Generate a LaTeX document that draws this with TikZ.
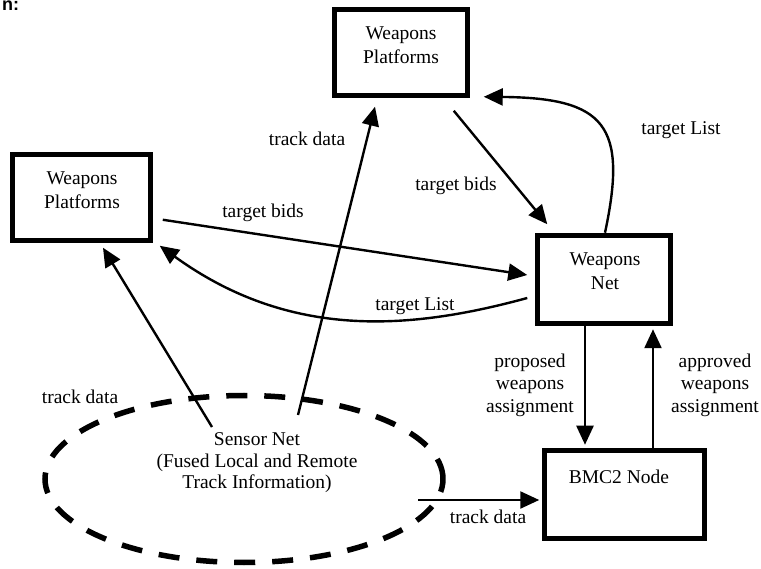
\documentclass[tikz,border=0pt]{standalone}
\usepackage{fontspec}
\setmainfont{Liberation Serif}
\setsansfont{Liberation Sans}
\usetikzlibrary{arrows.meta,calc,shapes.geometric}

\begin{document}
\begin{tikzpicture}[x=1pt,y=-1pt,
  box/.style={draw, line width=5.5pt, rectangle, inner sep=0pt},
  txt/.style={font=\fontsize{19.5}{24}\selectfont, align=center, inner sep=0pt},
  lbl/.style={font=\fontsize{19.5}{22.5}\selectfont, align=center, inner sep=0pt},
  arr/.style={line width=2.4pt, -{Triangle[length=19pt,width=17pt]}},
  sensorshape/.style={draw, ellipse, line width=5.5pt, dash pattern=on 21pt off 17pt, inner sep=0pt}
]
\useasboundingbox (0,0) rectangle (761,569);

% header fragment
\node[font=\sffamily\bfseries\fontsize{18}{20}\selectfont, anchor=base west, inner sep=0pt] (hdr) at (2,11) {n:};

% boxes
\node[box, minimum width=133pt, minimum height=86pt] (ptop) at (401,52.5) {};
\node[txt] (ptopt) at (401,45) {Weapons\\Platforms};

\node[box, minimum width=138pt, minimum height=86pt] (pleft) at (81.5,197.5) {};
\node[txt] (pleftt) at (82,190) {Weapons\\Platforms};

\node[box, minimum width=133pt, minimum height=88pt] (wnet) at (604,279.5) {};
\node[txt] (wnett) at (605,271) {Weapons\\Net};

\node[box, minimum width=160pt, minimum height=88pt] (bmc) at (624.5,494.5) {};
\node[txt] (bmct) at (619,477) {BMC2 Node};

% sensor net
\node[sensorshape, minimum width=398pt, minimum height=167pt] (sensor) at (244,479) {};
\node[txt, font=\fontsize{19.5}{21.5}\selectfont] (sensort) at (257,463) {Sensor Net\\(Fused Local and Remote\\Track Information)};

% connectors
\draw[arr] ($(sensor.center)+(-32,-52)$) -- ($(pleft.south)+(21.5,4.5)$);
\draw[arr] ($(sensor.center)+(54,-64)$) -- ($(ptop.south)+(-26,8.5)$);
\draw[arr] ($(ptop.south east)+(-16.5,12.5)$) -- ($(wnet.north west)+(12.5,-8.5)$);
\draw[arr] ($(wnet.north)+(1,0)$) .. controls (628,125) and (605,98) .. ($(ptop.south east)+(13.5,-1.5)$);
\draw[arr] ($(pleft.south east)+(9.5,-23.5)$) -- ($(wnet.west)+(-7.5,-4.5)$);
\draw[arr] ($(wnet.west)+(-7.5,18.5)$) .. controls (410,330) and (290,340) .. ($(pleft.south east)+(6.5,2.5)$);
\draw[arr] ($(wnet.south)+(-19,0)$) -- ($(bmc.north)+(-39.5,-3)$);
\draw[arr] ($(bmc.north)+(28.5,0)$) -- ($(wnet.south)+(49,3)$);
\draw[arr] ($(sensor.center)+(174,21)$) -- ($(bmc.west)+(-2.5,5.5)$);

% connector labels
\node[lbl] (l1) at (80,397) {track data};
\node[lbl] (l2) at (307,139) {track data};
\node[lbl] (l3) at (456,186) {target bids};
\node[lbl] (l4) at (681,130) {target List};
\node[lbl] (l5) at (263,213) {target bids};
\node[lbl] (l6) at (415,306) {target List};
\node[lbl] (l7) at (530,385) {proposed\\weapons\\assignment};
\node[lbl] (l8) at (715,385) {approved\\weapons\\assignment};
\node[lbl] (l9) at (488,517) {track data};
\end{tikzpicture}
\end{document}
